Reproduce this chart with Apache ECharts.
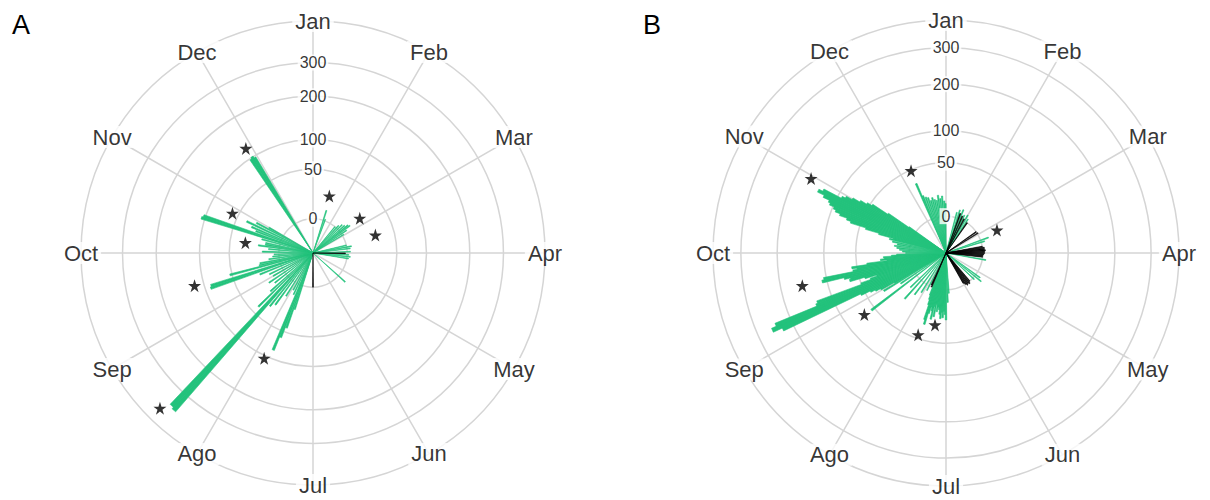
<!DOCTYPE html>
<html>
<head>
<meta charset="utf-8">
<script src="https://cdn.jsdelivr.net/npm/echarts@6/dist/echarts.min.js"></script>
<style>
  html, body { margin: 0; padding: 0; background: #ffffff; }
  #chart { width: 1210px; height: 500px; }
</style>
</head>
<body>
<div id="chart"></div>
<script>
// Month spokes, clockwise from the top
const months = ['Jan', 'Feb', 'Mar', 'Apr', 'May', 'Jun', 'Jul', 'Ago', 'Sep', 'Oct', 'Nov', 'Dec'];
const monthAngles = [0, 30, 60, 90, 120, 150, 180, 210, 240, 270, 300, 330];

// Radial rings (values) and their labels
const ringValues = [0, 50, 100, 200, 300];
const ringLabels = ['0', '50', '100', '200', '300'];
const outerValueA = 450;
const outerValueB = 390;
// square-root radial scale, shifted so slightly negative values still have length
const radialOffset = 10;

// Panel A: [angle (deg, clockwise from 1 Jan), value]
const aGreen = [
  [17.5, 7], [20, 1],
  [40, 0], [43, 2], [46, 4], [49, 5], [51.5, 7], [53.5, 8], [56, 4], [59, 1],
  [77, 0], [80, 3], [83, 2], [88, 2], [93, 1], [96, 2], [99, 1],
  [132, 6],
  [198, 20], [199.5, 44], [201, 60], [202.3, 84], [205, 8], [208, 5],
  [212, 12], [216, 25], [219, 30], [221.5, 367], [222.7, 360], [225.5, 40], [228, 18],
  [232, 10], [236, 14], [240, 8], [244, 10], [248, 18],
  [251, 90], [252.3, 88], [255.2, 53], [257, 16], [259, 15], [262, 7], [265, 4], [268, 3],
  [271.5, 12], [275, 7], [278, 16], [280, 10], [282, 10], [285, 14],
  [287.5, 107], [288.7, 104], [291, 22], [293, 28], [295.5, 36], [298, 25], [300, 12],
  [326.5, 98], [327.6, 101], [328.6, 97]
];
const aBlack = [[90.5, -1], [180, 0]];
const aStars = [
  [327.3, 122], [296.3, 59], [278.7, 30], [254.6, 119], [224.6, 396],
  [204.9, 105], [16, 20], [53.4, 19], [74, 26]
];

// Panel B
const bGreen = [
  [15, 3], [18, 5], [22, 6], [26, 3], [30, 4], [33, 2], [70, 5], [73, 2],
  [100, 2], [126, 3], [129, 5], [133, 1],
  [176, 2], [178, 8], [180, 23], [181, 18], [182, 15], [183, 21], [184, 16], [185, 22],
  [186, 18], [187, 14], [188, 12], [189, 16], [190, 10], [191, 21], [192, 12], [193, 24],
  [194, 16], [195, 13], [196, 19], [197, 31], [198, 26], [199, 12], [200, 8], [201, 5],
  [207, 3], [212, 6], [217, 10], [222, 18], [226, 8], [232.5, 55], [236, 12], [238.6, 29],
  [240, 16], [241, 31], [242, 37], [243, 43], [244, 56], [245, 229], [246, 256], [247, 242],
  [248, 134], [249, 130], [250, 50], [251, 37], [252, 29], [253, 43], [254, 64], [255, 62],
  [256, 71], [257, 109], [258, 105], [259, 56], [260, 50], [261, 57], [262, 37], [263, 16],
  [264, 22], [265, 18], [266, 19], [267, 12], [268, 8], [270, 2],
  [272, 4], [274, 6], [276, 8], [278, 10], [280, 8], [282, 12], [284, 15], [285, 12],
  [286, 26], [287, 42], [288, 64], [289, 71], [290, 84], [291, 93], [292, 98], [293, 107],
  [294, 111], [295, 124], [296, 139], [297, 130], [298, 93], [299, 87], [300, 76], [301, 64],
  [302, 54], [303, 47], [304, 26], [305, 5],
  [336.7, 32], [338, 18], [340, 16], [342, 15], [344, 12], [346, 14], [348, 12], [350, 11],
  [352, 15], [354, 12], [356, 14], [358, 10], [359.5, 8]
];
const bBlack = [
  [20, 3], [24, 2], [28, 1], [35, 0], [55, 0], [58, 0.5],
  [80, 0], [82, 1], [84, 1], [86, 1.5], [88, 1], [90, 1], [92, 0.5], [94, 0], [96, 0],
  [140, 0], [142, 1], [144, 0.5], [146, 1], [148, 0], [150, -1],
  [203, 0], [204.5, -1]
];
const bStars = [
  [298.9, 165], [337, 49], [65.8, 13], [257.2, 150], [233, 67], [188.7, 29], [198.8, 45]
];

const toR = v => Math.sqrt(v + radialOffset);
const toPolar = arr => arr.map(([ang, v]) => [toR(v), ang]);

const FONT = '"Liberation Sans", Arial, sans-serif';
const GRID = '#d5d5d5';
const GREEN = '#23c27c';
const STAR = 'path://M50,0 L61.2,34.5 L97.6,34.5 L68.2,55.9 L79.4,90.5 L50,69.1 L20.6,90.5 L31.8,55.9 L2.4,34.5 L38.8,34.5 Z';

function axesFor(idx, outerValue) {
  return {
    angle: {
      polarIndex: idx, type: 'value', min: 0, max: 360, interval: 30,
      startAngle: 90, clockwise: true,
      axisLine: { show: true, lineStyle: { color: GRID, width: 1.5 } },
      axisTick: { show: false },
      axisLabel: { show: false },
      splitLine: { show: true, lineStyle: { color: GRID, width: 1.5 } }
    },
    radius: {
      polarIndex: idx, type: 'value', min: 0, max: toR(outerValue),
      axisLine: { show: false },
      axisTick: { show: false, customValues: ringValues.map(toR) },
      axisLabel: { show: false, customValues: ringValues.map(toR) },
      splitLine: { show: true, lineStyle: { color: GRID, width: 1.5 } }
    }
  };
}

function seriesFor(idx, green, black, stars, outerValue) {
  const barBase = {
    type: 'bar', coordinateSystem: 'polar', polarIndex: idx,
    barWidth: 1.3, stack: 'p' + idx, z: 2, silent: true
  };
  return [
    Object.assign({}, barBase, {
      name: 'green' + idx, data: toPolar(green),
      itemStyle: { color: GREEN, borderColor: GREEN, borderWidth: 0.6 }
    }),
    Object.assign({}, barBase, {
      name: 'black' + idx, data: toPolar(black),
      itemStyle: { color: '#000', borderColor: '#000', borderWidth: 0.6 }
    }),
    {
      type: 'scatter', coordinateSystem: 'polar', polarIndex: idx, z: 4, silent: true,
      symbol: STAR, symbolSize: 13, itemStyle: { color: '#000' },
      data: toPolar(stars)
    },
    {
      type: 'scatter', coordinateSystem: 'polar', polarIndex: idx, z: 5, silent: true,
      symbolSize: 1, itemStyle: { color: 'rgba(0,0,0,0)' },
      data: ringValues.map((v, i) => ({ value: [toR(v), 0], name: ringLabels[i] })),
      label: {
        show: true, position: 'inside', formatter: p => p.name,
        fontFamily: FONT, fontSize: 16, color: '#000',
        backgroundColor: '#fff', padding: [0, 2]
      }
    },
    {
      type: 'scatter', coordinateSystem: 'polar', polarIndex: idx, z: 5, silent: true,
      symbolSize: 1, itemStyle: { color: 'rgba(0,0,0,0)' },
      data: months.map((m, i) => ({ value: [toR(outerValue), monthAngles[i]], name: m })),
      label: {
        show: true, position: 'inside', formatter: p => p.name,
        fontFamily: FONT, fontSize: 22, color: '#000',
        backgroundColor: '#fff', padding: [0, 3]
      }
    }
  ];
}

const axA = axesFor(0, outerValueA);
const axB = axesFor(1, outerValueB);

const option = {
  backgroundColor: '#ffffff',
  animation: false,
  title: [
    { text: 'A', left: 7, top: 6, textStyle: { fontFamily: FONT, fontSize: 27, fontWeight: 'normal', color: '#000' } },
    { text: 'B', left: 638, top: 6, textStyle: { fontFamily: FONT, fontSize: 27, fontWeight: 'normal', color: '#000' } }
  ],
  polar: [
    { center: [313, 253], radius: 232 },
    { center: [946, 253], radius: 233 }
  ],
  angleAxis: [axA.angle, axB.angle],
  radiusAxis: [axA.radius, axB.radius],
  series: [].concat(
    seriesFor(0, aGreen, aBlack, aStars, outerValueA),
    seriesFor(1, bGreen, bBlack, bStars, outerValueB)
  )
};

const chart = echarts.init(document.getElementById('chart'), null, { renderer: 'svg' });
chart.setOption(option);
</script>
</body>
</html>
